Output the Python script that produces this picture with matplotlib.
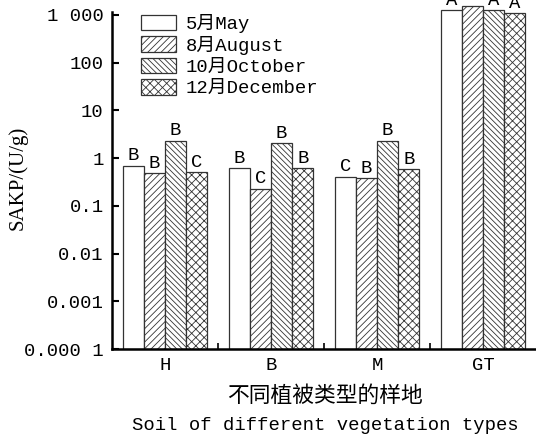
import matplotlib
matplotlib.use("Agg")
import matplotlib.pyplot as plt
import numpy as np

# dados (escala log)
sites = ["H", "B", "M", "GT"]
months = ["5月May", "8月August", "10月October", "12月December"]
may = [0.69, 0.61, 0.41, 1270]
aug = [0.48, 0.23, 0.38, 1550]
oct_ = [2.3, 2.05, 2.3, 1270]
dec = [0.50, 0.61, 0.58, 1100]
letters_may = ["B", "B", "C", "A"]
letters_aug = ["B", "C", "B", "A"]
letters_oct = ["B", "B", "B", "A"]
letters_dec = ["C", "B", "B", "A"]

yticks = [1e-4, 1e-3, 1e-2, 1e-1, 1, 10, 100, 1000]
ytick_labels = ["0.000 1", "0.001", "0.01", "0.1", "1", "10", "100", "1 000"]

plt.rcParams["hatch.linewidth"] = 0.6
mono = ["Liberation Mono", "Noto Sans CJK SC"]
fs = 13.6

fig = plt.figure(figsize=(5.36, 4.37), dpi=100)
ax = fig.add_axes([112 / 536, 1 - 349 / 437, 424 / 536, 349 / 437])

x = np.arange(len(sites))
width = 0.2
series = [may, aug, oct_, dec]
letters = [letters_may, letters_aug, letters_oct, letters_dec]
hatches = ["", "/////", "\\\\\\\\\\\\", "xxxx"]

for i, (vals, lab, h, lt) in enumerate(zip(series, months, hatches, letters)):
    pos = x + (i - 1.5) * width
    ax.bar(pos, vals, width=width, bottom=1e-4, facecolor="white",
           edgecolor="#333333", hatch=h, linewidth=0.9, label=lab)
    # letras de significância acima das barras
    for px, v, t in zip(pos, vals, lt):
        ax.annotate(t, (px, v), xytext=(0, 1), textcoords="offset points",
                    ha="center", va="bottom", fontsize=fs, family=mono,
                    annotation_clip=False)

ax.set_yscale("log")
ax.set_ylim(1e-4, 2050)
ax.set_xlim(-0.5, 3.5)
ax.set_yticks(yticks)
ax.set_yticklabels(ytick_labels, family=mono, fontsize=fs)
ax.yaxis.set_minor_locator(matplotlib.ticker.NullLocator())
ax.set_xticks(x)
ax.set_xticklabels(sites, family=mono, fontsize=fs)
ax.set_xticks([0.5, 1.5, 2.5], minor=True)
ax.tick_params(axis="x", which="major", length=0, pad=6)
ax.tick_params(axis="x", which="minor", direction="in", length=4, width=1.2)
ax.tick_params(axis="y", direction="in", length=5, width=1.5, pad=6)

for s in ["top", "right"]:
    ax.spines[s].set_visible(False)
ax.spines["left"].set_linewidth(1.8)
ax.spines["bottom"].set_linewidth(1.8)
ax.spines["left"].set_bounds(1e-4, 1130)

ax.set_ylabel("SAKP/(U/g)", family="Liberation Serif", fontsize=15)
ax.yaxis.set_label_coords(-84 / 424, (349 - 178) / 349)

fig.text(325 / 536, 1 - 396 / 437, "不同植被类型的样地", family="Noto Sans CJK SC",
         fontsize=15.7, ha="center", va="center")
fig.text(325 / 536, 1 - 425 / 437, "Soil of different vegetation types", family=mono,
         fontsize=fs, ha="center", va="center")

ax.legend(loc="upper left", bbox_to_anchor=(29 / 424, 1 - 14 / 349), frameon=False,
          prop={"family": mono, "size": fs}, handlelength=1.85, handleheight=0.9,
          labelspacing=0.15, handletextpad=0.5, borderaxespad=0, borderpad=0)

fig.savefig("out.png", dpi=100)
